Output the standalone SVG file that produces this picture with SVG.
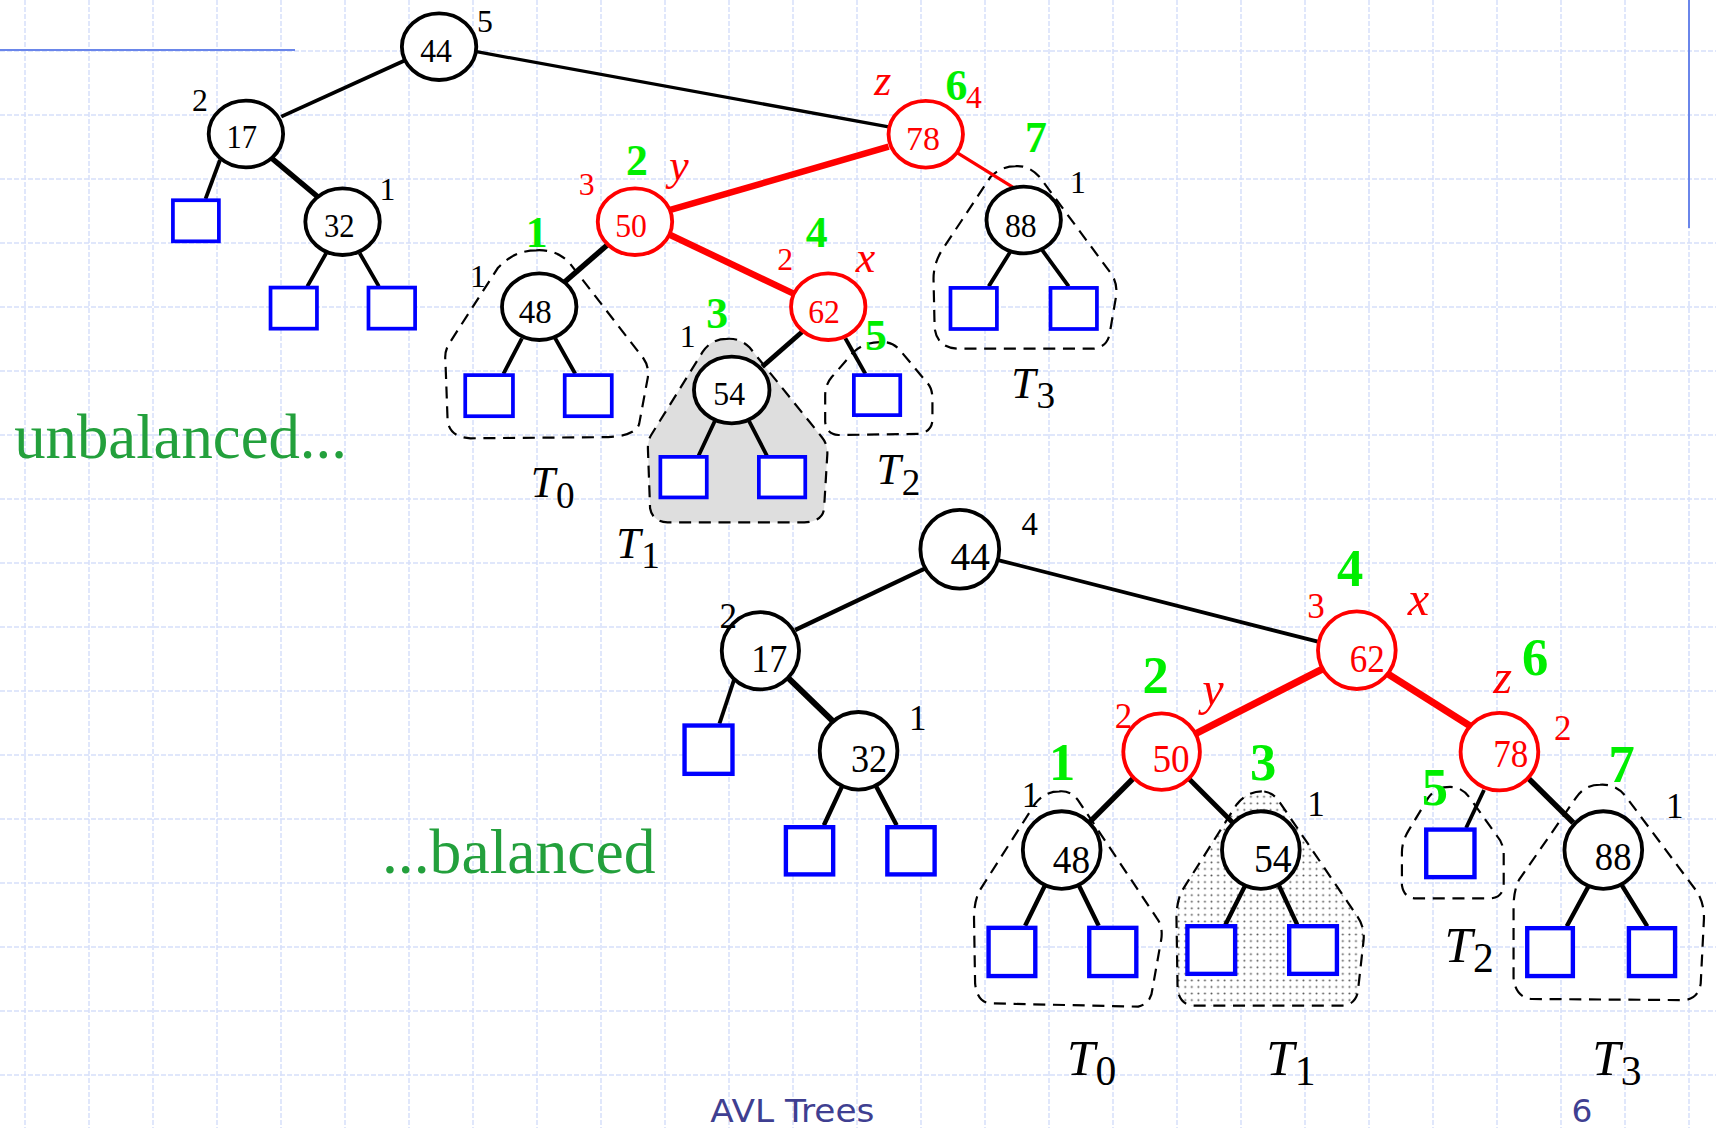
<svg xmlns="http://www.w3.org/2000/svg" width="1716" height="1128" viewBox="0 0 1716 1128">
<defs>
<style>
.grid{stroke:#d6e0fa;stroke-width:1.5;stroke-dasharray:5,2;fill:none}
.bl{stroke:#6a86ea;stroke-width:2;fill:none}
.e{stroke:#000;stroke-width:3.5;fill:none}
.ek{stroke:#000;stroke-width:5;fill:none}
.er{stroke:#f00;stroke-width:6;fill:none}
.ert{stroke:#f00;stroke-width:3;fill:none}
.c{fill:#fff;stroke:#000;stroke-width:3.5}
.cr{fill:#fff;stroke:#f00;stroke-width:3.5}
.lf{fill:#fff;stroke:#0000ff;stroke-width:3.4}
.lfb{fill:#fff;stroke:#0000ff;stroke-width:4}
.sub{stroke:#000;stroke-width:2;stroke-dasharray:11,7;fill:none}
text{font-family:"Liberation Serif","Times New Roman",serif}
.n{font-size:31px;text-anchor:middle}
.nb{font-size:36px;text-anchor:middle}
.red{fill:#f00}
.h{font-size:29px;text-anchor:middle}
.hb{font-size:32px;text-anchor:middle}
.g{font-size:40px;font-weight:bold;fill:#00ee00;text-anchor:middle}
.gb{font-size:48px;font-weight:bold;fill:#00ee00;text-anchor:middle}
.i{font-size:40px;font-style:italic;fill:#f00;text-anchor:middle}
.ib{font-size:44px;font-style:italic;fill:#f00;text-anchor:middle}
.T{font-size:40px;font-style:italic}
.Tb{font-size:46px;font-style:italic}
.s{font-size:34px;font-style:normal}
.sb{font-size:38px;font-style:normal}
.big{font-size:58px;fill:#23a03c}
.foot{font-family:"DejaVu Sans","Liberation Sans",sans-serif;font-size:30px;fill:#3f3f91}
</style>
<pattern id="dots" patternUnits="userSpaceOnUse" width="6" height="6">
<rect width="6" height="6" fill="#fff"/>
<circle cx="3" cy="3" r="0.9" fill="#555"/>
</pattern>
</defs>
<rect width="1716" height="1128" fill="#fff"/>
<g id="grid">
<path class="grid" d="M25,0V1128M89,0V1128M153,0V1128M217,0V1128M281,0V1128M345,0V1128M409,0V1128M473,0V1128M537,0V1128M601,0V1128M665,0V1128M729,0V1128M793,0V1128M857,0V1128M921,0V1128M985,0V1128M1049,0V1128M1113,0V1128M1177,0V1128M1241,0V1128M1305,0V1128M1369,0V1128M1433,0V1128M1497,0V1128M1561,0V1128M1625,0V1128M1689,0V1128"/>
<path class="grid" d="M0,51H1716M0,115H1716M0,179H1716M0,243H1716M0,307H1716M0,371H1716M0,435H1716M0,499H1716M0,563H1716M0,627H1716M0,691H1716M0,755H1716M0,819H1716M0,883H1716M0,947H1716M0,1011H1716M0,1075H1716"/>
<path class="bl" d="M0,50H295M1689,0V228"/>
</g>
<g transform="scale(1.0944,1.093)">
<g id="subtrees">
<path class="sub" d="M490,229 Q470,229 455,245 L410,315 Q406,322 407,330 L409,385 Q411,400 430,401 L550,400 Q580,400 584,388 L592,345 Q593,335 588,328 L520,240 Q508,228 490,229 Z"/>
<path class="sub" style="fill:#dedede" d="M664,310 Q650,310 642,322 L595,398 Q592,403 592,410 L594,465 Q596,477 610,478 L735,478 Q752,477 753,465 L756,415 Q756,406 751,400 L685,318 Q676,309 664,310 Z"/>
<path class="sub" d="M804,313 Q790,313 780,322 L760,345 Q754,352 754,362 L754,386 Q755,397 766,398 L840,397 Q851,395 852,385 L852,365 Q852,355 847,350 L822,320 Q815,312 804,313 Z"/>
<path class="sub" d="M928,152 Q915,152 905,162 L860,230 Q853,242 853,255 L854,300 Q856,318 875,319 L1000,319 Q1012,317 1014,305 L1020,270 Q1021,258 1015,250 L950,162 Q940,151 928,152 Z"/>
<path class="sub" d="M968,724 Q955,724 946,735 L895,815 Q890,825 890,840 L891,900 Q893,917 905,918 L1040,921 Q1052,918 1053,905 L1061,860 Q1063,848 1057,840 L985,732 Q978,723 968,724 Z"/>
<path class="sub" style="fill:url(#dots)" d="M1153,724 Q1140,724 1130,736 L1080,815 Q1075,825 1075,840 L1076,905 Q1078,919 1090,920 L1228,920 Q1240,918 1241,905 L1246,860 Q1247,848 1240,838 L1170,735 Q1163,724 1153,724 Z"/>
<path class="sub" d="M1325,720 Q1312,720 1305,730 L1287,760 Q1281,770 1281,780 L1281,810 Q1283,822 1294,822 L1362,822 Q1373,821 1374,810 L1374,782 Q1374,772 1368,765 L1343,730 Q1336,720 1325,720 Z"/>
<path class="sub" d="M1462,718 Q1448,718 1440,730 L1388,805 Q1383,815 1383,830 L1383,895 Q1385,913 1400,914 L1540,915 Q1552,913 1554,900 L1557,840 Q1557,825 1550,815 L1485,728 Q1476,717 1462,718 Z"/>
</g>
<g id="connectors">
<path class="e" d="M370.8,54.9L257,106.7"/>
<path class="e" style="stroke-width:3" d="M435.4,47.3L812,116"/>
<path class="e" d="M201,146.4L187.8,182"/>
<path class="ek" d="M248.3,144.8L290.3,180"/>
<path class="e" d="M298,231.7L280.8,262M328.7,231.7L346.2,262"/>
<path class="er" d="M812,134.2L612.5,192.1"/>
<path class="ert" d="M873,138.8L927.2,172.3"/>
<path class="ek" d="M554.9,224.1L514.6,259.2"/>
<path class="er" d="M612.5,215L728,270"/>
<path class="e" d="M476.9,309.5L460,342M507.3,309.5L525.6,342"/>
<path class="e" style="stroke-width:4.5" d="M733,303.5L696.5,335.5"/>
<path class="e" d="M772.4,309.5L790.7,342"/>
<path class="e" d="M653.6,384.3L638.3,417M684,384.3L700.8,417"/>
<path class="e" d="M923.2,230.3L903.4,262M952.2,228.7L976.5,262"/>
<path class="e" style="stroke-width:4" d="M845.5,520L726.6,576.4"/>
<path class="e" d="M912,512.4L1206,587.5"/>
<path class="e" d="M670.7,622L657.4,662"/>
<path class="ek" style="stroke-width:5.5" d="M719,619L761.5,660.3"/>
<path class="e" style="stroke-width:4" d="M769.3,719.7L752.8,755M800.7,719.7L819.3,755"/>
<path class="er" style="stroke-width:6.5" d="M1209.8,611.4L1093.1,671"/>
<path class="er" style="stroke-width:6.5" d="M1267.2,616L1344.4,664.9"/>
<path class="ek" d="M1035.6,712L994.5,753.3"/>
<path class="ek" style="stroke-width:4.5" d="M1085.9,712L1127,753.3"/>
<path class="e" d="M1356,722.8L1339.6,757.5"/>
<path class="ek" d="M1396.5,712L1437.6,752.7"/>
<path class="e" style="stroke-width:4" d="M955,809.7L936.7,847M985.6,809.7L1003.9,847M1138,809.7L1119.7,846M1168.4,809.7L1185.3,846M1451.3,811.2L1431.6,847.5M1481.8,809.7L1505.2,847.5"/>
</g>
<g id="top-44"><ellipse class="c" cx="401.2" cy="42.7" rx="34" ry="30.5"/><text class="n" x="398.5" y="57" textLength="29" lengthAdjust="spacingAndGlyphs">44</text><text class="h" x="443" y="29">5</text></g>
<g id="top-17"><ellipse class="c" cx="224.7" cy="122.6" rx="34" ry="30.5"/><text class="n" x="221" y="135" textLength="28" lengthAdjust="spacingAndGlyphs">17</text><text class="h" x="182.6" y="102">2</text></g>
<g id="top-32"><ellipse class="c" cx="313" cy="202.8" rx="34" ry="30.5"/><text class="n" x="310" y="216.5" textLength="28" lengthAdjust="spacingAndGlyphs">32</text><text class="h" x="354" y="183">1</text></g>
<g id="top-78"><ellipse class="cr" cx="845.9" cy="122.8" rx="34" ry="30.5"/><text class="n red" x="843.3" y="137" textLength="31" lengthAdjust="spacingAndGlyphs">78</text><text class="i" x="806.6" y="86.9">z</text><text class="g" x="874" y="91.5">6</text><text class="h red" x="890" y="99">4</text></g>
<g id="top-50"><ellipse class="cr" cx="580.2" cy="202.8" rx="34" ry="30.5"/><text class="n red" x="576.6" y="216.5" textLength="29" lengthAdjust="spacingAndGlyphs">50</text><text class="h red" x="536" y="178.4">3</text><text class="g" x="582" y="160">2</text><text class="i" x="620.4" y="164.7">y</text></g>
<g id="top-48"><ellipse class="c" cx="492.7" cy="280.6" rx="34" ry="30.5"/><text class="n" x="489" y="295.8" textLength="30" lengthAdjust="spacingAndGlyphs">48</text><text class="h" x="436.6" y="262.3">1</text><text class="g" x="490.4" y="225.7">1</text></g>
<g id="top-62"><ellipse class="cr" cx="756.8" cy="280.6" rx="34" ry="30.5"/><text class="n red" x="753" y="295.8" textLength="29" lengthAdjust="spacingAndGlyphs">62</text><text class="h red" x="717.4" y="247">2</text><text class="g" x="746.2" y="225.7">4</text><text class="i" x="790.8" y="248.6">x</text></g>
<g id="top-54"><ellipse class="c" cx="668.6" cy="356.8" rx="34.5" ry="30.5"/><text class="n" x="666.3" y="370.5" textLength="29" lengthAdjust="spacingAndGlyphs">54</text><text class="h" x="628.3" y="317.2">1</text><text class="g" x="655.4" y="300.4">3</text></g>
<g id="top-88"><ellipse class="c" cx="935.4" cy="201.3" rx="34" ry="30.5"/><text class="n" x="932.8" y="216.5" textLength="29" lengthAdjust="spacingAndGlyphs">88</text><text class="h" x="985" y="176.9">1</text><text class="g" x="946.5" y="138.8">7</text></g>
<g id="top-leaves">
<rect class="lf" x="158" y="183.2" width="42" height="37.6"/>
<rect class="lf" x="247.2" y="263.1" width="42.4" height="37.6"/>
<rect class="lf" x="336.7" y="263.1" width="42.6" height="37.6"/>
<rect class="lf" x="425.1" y="343.2" width="43.6" height="37.6"/>
<rect class="lf" x="516" y="343.2" width="43" height="37.6"/>
<rect class="lf" x="603.4" y="418" width="42.4" height="37.1"/>
<rect class="lf" x="693.4" y="418" width="42.4" height="37.1"/>
<rect class="lf" x="780.2" y="343.2" width="42.4" height="36.6"/>
<rect class="lf" x="868.5" y="263.4" width="42.4" height="37.6"/>
<rect class="lf" x="959.9" y="263.4" width="42.4" height="37.6"/>
</g>
<g id="top-labels">
<text class="T" x="485" y="454.4">T<tspan class="s" x="508" y="465">0</tspan></text>
<text class="T" x="563" y="510.8">T<tspan class="s" x="586" y="520">1</tspan></text>
<text class="T" x="801" y="443">T<tspan class="s" x="824" y="453">2</tspan></text>
<text class="T" x="924" y="364.4">T<tspan class="s" x="947" y="373.6">3</tspan></text>
</g>
<g id="bot-44"><circle class="c" cx="877" cy="502.5" r="36"/><text class="nb" x="886.5" y="521.5" textLength="36" lengthAdjust="spacingAndGlyphs">44</text><text class="h" style="font-size:30px" x="940.8" y="489.5">4</text></g>
<g id="bot-17"><circle class="c" cx="694.8" cy="595.4" r="35.3"/><text class="nb" x="703" y="614.5" textLength="33" lengthAdjust="spacingAndGlyphs">17</text><text class="hb" x="665.5" y="574.8">2</text></g>
<g id="bot-32"><circle class="c" cx="784.5" cy="686.9" r="35.5"/><text class="nb" x="794" y="706" textLength="33" lengthAdjust="spacingAndGlyphs">32</text><text class="hb" x="838.5" y="667.9">1</text></g>
<g id="bot-62"><circle class="cr" cx="1239.8" cy="594.9" r="35.5"/><text class="nb red" x="1249.4" y="614.5" textLength="32" lengthAdjust="spacingAndGlyphs">62</text><text class="hb red" x="1202.6" y="565.7">3</text><text class="gb" x="1233.7" y="536.1">4</text><text class="ib" x="1296" y="562.7">x</text></g>
<g id="bot-50"><circle class="cr" cx="1061.4" cy="687.7" r="35"/><text class="nb red" x="1070" y="706" textLength="34" lengthAdjust="spacingAndGlyphs">50</text><text class="hb red" x="1026.5" y="666.3">2</text><text class="gb" x="1056" y="634.3">2</text><text class="ib" x="1108.3" y="645">y</text></g>
<g id="bot-78"><circle class="cr" cx="1370.1" cy="687.7" r="35.5"/><text class="nb red" x="1380.4" y="701.4" textLength="32" lengthAdjust="spacingAndGlyphs">78</text><text class="ib" x="1373" y="634.3">z</text><text class="gb" x="1402.8" y="617.6">6</text><text class="hb red" x="1428" y="677">2</text></g>
<g id="bot-48"><circle class="c" cx="970.1" cy="777.7" r="35.5"/><text class="nb" x="979" y="799" textLength="34" lengthAdjust="spacingAndGlyphs">48</text><text class="hb" x="941.7" y="738">1</text><text class="gb" x="970.5" y="713.6">1</text></g>
<g id="bot-54"><circle class="c" cx="1152.1" cy="777.7" r="35.5"/><text class="nb" x="1163" y="797.5" textLength="34.5" lengthAdjust="spacingAndGlyphs">54</text><text class="hb" x="1202.6" y="746.6">1</text><text class="gb" x="1154.2" y="713.6">3</text></g>
<g id="bot-88"><circle class="c" cx="1465" cy="777.7" r="35.5"/><text class="nb" x="1474" y="796" textLength="33.5" lengthAdjust="spacingAndGlyphs">88</text><text class="hb" x="1530.2" y="748.7">1</text><text class="gb" x="1481.7" y="715.2">7</text></g>
<g id="bot-leaf5"><text class="gb" x="1311.2" y="736.5">5</text></g>
<g id="top-leaf5"><text class="g" x="800.5" y="320.2">5</text></g>
<g id="bot-leaves">
<rect class="lfb" x="625.5" y="663.8" width="43.8" height="44.2"/>
<rect class="lfb" x="718.1" y="756.8" width="43.2" height="43.2"/>
<rect class="lfb" x="810.8" y="756.8" width="43.2" height="43.2"/>
<rect class="lfb" x="903.3" y="848.9" width="42.7" height="44.1"/>
<rect class="lfb" x="995.3" y="848.9" width="43" height="44.1"/>
<rect class="lfb" x="1085" y="847.4" width="43.6" height="43.6"/>
<rect class="lfb" x="1178" y="847.4" width="43.6" height="43.6"/>
<rect class="lfb" x="1303.2" y="759" width="44.1" height="43.5"/>
<rect class="lfb" x="1395.5" y="849.2" width="41.7" height="43.8"/>
<rect class="lfb" x="1488.4" y="849.2" width="42.2" height="43.8"/>
</g>
<g id="bot-labels">
<text class="Tb" x="975" y="983.5">T<tspan class="sb" x="1001" y="993">0</tspan></text>
<text class="Tb" x="1157" y="983.5">T<tspan class="sb" x="1183" y="993">1</tspan></text>
<text class="Tb" x="1320" y="879.9">T<tspan class="sb" x="1346" y="889">2</tspan></text>
<text class="Tb" x="1455" y="983.5">T<tspan class="sb" x="1481" y="993">3</tspan></text>
</g>
<text class="big" x="13" y="419.3" textLength="304" lengthAdjust="spacingAndGlyphs">unbalanced...</text>
<text class="big" x="349" y="799" textLength="250" lengthAdjust="spacingAndGlyphs">...balanced</text>
<text class="foot" x="649" y="1026.3" textLength="150" lengthAdjust="spacingAndGlyphs">AVL Trees</text>
<text class="foot" x="1436" y="1026.3">6</text>
</g>
</svg>
